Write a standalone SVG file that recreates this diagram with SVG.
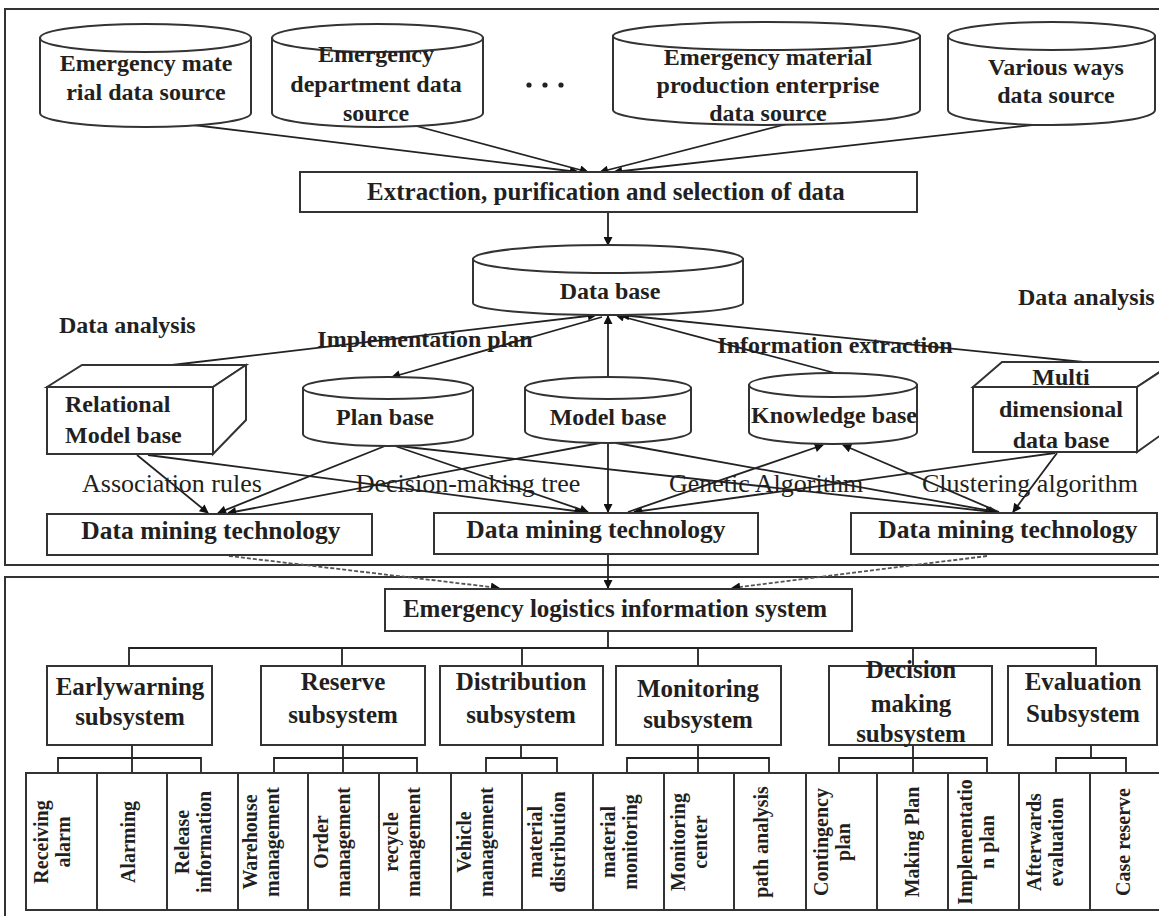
<svg xmlns="http://www.w3.org/2000/svg" width="1159" height="916" viewBox="0 0 1159 916">
<defs>
<style>
.t{font-family:"Liberation Serif","Times New Roman",serif;font-weight:bold;font-size:24px;fill:#231f20;text-anchor:middle}
.ts{font-family:"Liberation Serif","Times New Roman",serif;font-weight:bold;font-size:24px;fill:#231f20;text-anchor:start}
.l{font-family:"Liberation Serif","Times New Roman",serif;font-size:26px;fill:#231f20;text-anchor:middle}
.s{font-family:"Liberation Serif","Times New Roman",serif;font-weight:bold;font-size:20px;fill:#231f20;text-anchor:middle}
.sh{fill:#fff;stroke:#333;stroke-width:2}
.fr{fill:none;stroke:#333;stroke-width:2}
.c{fill:none;stroke:#222;stroke-width:1.8}
.a{marker-end:url(#ah)}
.d{fill:none;stroke:#555;stroke-width:1.8;stroke-dasharray:4 2}
.dm{font-size:25.5px}
</style>
<marker id="ah" viewBox="0 0 10 10" refX="9" refY="5" markerWidth="11" markerHeight="9" markerUnits="userSpaceOnUse" orient="auto"><path d="M0,0 L10,5 L0,10 Z" fill="#111"/></marker>
</defs>
<rect width="1159" height="916" fill="#fff"/>
<g id="frames">
<rect class="fr" x="5" y="9" width="1170" height="556"/>
<rect class="fr" x="5" y="577" width="1170" height="350"/>
</g>
<g id="connectors">
<line class="c a" x1="185" y1="124" x2="578" y2="172"/>
<line class="c a" x1="405" y1="123" x2="588" y2="172"/>
<line class="c a" x1="787" y1="124" x2="600" y2="172"/>
<line class="c a" x1="1050" y1="123" x2="614" y2="172"/>
<line class="c a" x1="608" y1="212" x2="608" y2="245"/>
<line class="c a" x1="172" y1="365" x2="596" y2="315"/>
<line class="c a" x1="602" y1="317" x2="392" y2="377"/>
<line class="c a" x1="608" y1="377" x2="608" y2="316"/>
<line class="c a" x1="835" y1="373" x2="616" y2="315"/>
<line class="c a" x1="1083" y1="362" x2="621" y2="315"/>
<line class="c a" x1="137" y1="455" x2="208" y2="513"/>
<line class="c a" x1="385" y1="446" x2="218" y2="513"/>
<line class="c a" x1="600" y1="443" x2="228" y2="513"/>
<line class="c a" x1="148" y1="455" x2="583" y2="512"/>
<line class="c a" x1="395" y1="446" x2="588" y2="512"/>
<line class="c a" x1="608" y1="443" x2="608" y2="512"/>
<line class="c a" x1="1055" y1="453" x2="634" y2="512"/>
<line class="c a" x1="628" y1="512" x2="823" y2="445"/>
<line class="c a" x1="398" y1="446" x2="994" y2="512"/>
<line class="c a" x1="616" y1="443" x2="997" y2="512"/>
<line class="c a" x1="999" y1="512" x2="843" y2="445"/>
<line class="c a" x1="1057" y1="453" x2="1013" y2="512"/>
<line class="d a" x1="229" y1="556" x2="499" y2="588"/>
<line class="d a" x1="987" y1="556" x2="732" y2="588"/>
<line class="c a" x1="608" y1="554" x2="608" y2="588"/>
<path class="c" d="M608,631 V648 M129,666 V648 H1096 V666 M342,648 V666 M522,648 V666 M698,648 V666 M913,648 V666"/>
<path class="c" d="M132,745 V773 M58,773 V758 H201 V773"/>
<path class="c" d="M343,745 V773 M274,773 V758 H417 V773"/>
<path class="c" d="M521,745 V758 M486,773 V758 H557 V773"/>
<path class="c" d="M698,745 V773 M627,773 V758 H769 V773"/>
<path class="c" d="M913,745 V773 M839,773 V758 H987 V773"/>
<path class="c" d="M1091,745 V758 M1056,773 V758 H1126 V773"/>
</g>
<g id="src1">
<path class="sh" d="M40,38 V113 A105.5,14 0 0 0 251,113 V38 Z"/>
<ellipse class="sh" cx="145.5" cy="38" rx="105.5" ry="14"/>
<text class="t" x="146" y="71">Emergency mate</text>
<text class="t" x="146" y="100">rial data source</text>
</g>
<g id="src2">
<path class="sh" d="M272,38 V113 A105.5,14 0 0 0 483,113 V38 Z"/>
<ellipse class="sh" cx="377.5" cy="38" rx="105.5" ry="14"/>
<text class="t" x="376" y="62">Emergency</text>
<text class="t" x="376" y="92">department data</text>
<text class="t" x="376" y="121">source</text>
</g>
<g id="dots">
<circle cx="529" cy="85" r="2.6" fill="#222"/>
<circle cx="545" cy="85" r="2.6" fill="#222"/>
<circle cx="561" cy="85" r="2.6" fill="#222"/>
</g>
<g id="src3">
<path class="sh" d="M613,36 V110 A153.5,15 0 0 0 920,110 V36 Z"/>
<ellipse class="sh" cx="766.5" cy="36" rx="153.5" ry="14"/>
<text class="t" x="768" y="65">Emergency  material</text>
<text class="t" x="768" y="93">production  enterprise</text>
<text class="t" x="768" y="121">data source</text>
</g>
<g id="src4">
<path class="sh" d="M948,36 V110 A103.5,15 0 0 0 1155,110 V36 Z"/>
<ellipse class="sh" cx="1051.5" cy="36" rx="103.5" ry="14"/>
<text class="t" x="1056" y="75">Various ways</text>
<text class="t" x="1056" y="103">data source</text>
</g>
<g id="extract">
<rect class="sh" x="300" y="172" width="617" height="40"/>
<text class="t" x="606" y="200" style="font-size:25px">Extraction, purification and selection of data</text>
</g>
<g id="database">
<path class="sh" d="M473,259 V303 A135,12 0 0 0 743,303 V259 Z"/>
<ellipse class="sh" cx="608" cy="259" rx="135" ry="14"/>
<text class="t" x="610" y="299">Data base</text>
</g>
<g id="labels">
<text class="ts" x="59" y="333">Data analysis</text>
<text class="ts" x="1018" y="305">Data analysis</text>
<text class="t" x="425" y="347">Implementation plan</text>
<text class="t" x="835" y="353">Information extraction</text>
<text class="l" x="172" y="492">Association rules</text>
<text class="l" x="468" y="492">Decision-making tree</text>
<text class="l" x="766" y="492">Genetic Algorithm</text>
<text class="l" x="1030" y="492">Clustering algorithm</text>
</g>
<g id="relational">
<path class="sh" d="M47,387 L82,365 H246 L213,387 Z"/>
<path class="sh" d="M213,387 L246,365 V420 L213,454 Z"/>
<rect class="sh" x="47" y="387" width="166" height="67"/>
<text class="ts" x="65" y="412">Relational</text>
<text class="ts" x="65" y="443">Model base</text>
</g>
<g id="planbase">
<path class="sh" d="M303,388 V434 A85,12 0 0 0 473,434 V388 Z"/>
<ellipse class="sh" cx="388" cy="388" rx="85" ry="11"/>
<text class="t" x="385" y="425">Plan base</text>
</g>
<g id="modelbase">
<path class="sh" d="M525,388 V431 A83,12 0 0 0 691,431 V388 Z"/>
<ellipse class="sh" cx="608" cy="388" rx="83" ry="11"/>
<text class="t" x="608" y="425">Model base</text>
</g>
<g id="knowledgebase">
<path class="sh" d="M749,385 V432 A84,12 0 0 0 917,432 V385 Z"/>
<ellipse class="sh" cx="833" cy="385" rx="84" ry="12"/>
<text class="t" x="834" y="423">Knowledge base</text>
</g>
<g id="multidim">
<path class="sh" d="M973,387 L1002,362 H1175 L1137,387 Z"/>
<path class="sh" d="M1137,387 L1175,362 V425 L1137,452 Z"/>
<rect class="sh" x="973" y="387" width="164" height="65"/>
<text class="t" x="1061" y="385">Multi</text>
<text class="t" x="1061" y="417">dimensional</text>
<text class="t" x="1061" y="448">data base</text>
</g>
<g id="dm1">
<rect class="sh" x="47" y="514" width="325" height="41"/>
<text class="t dm" x="211" y="539">Data mining technology</text>
</g>
<g id="dm2">
<rect class="sh" x="434" y="513" width="324" height="41"/>
<text class="t dm" x="596" y="538">Data mining technology</text>
</g>
<g id="dm3">
<rect class="sh" x="851" y="513" width="306" height="41"/>
<text class="t dm" x="1008" y="538">Data mining technology</text>
</g>
<g id="elis">
<rect class="sh" x="385" y="589" width="467" height="42"/>
<text class="t" x="615" y="617" style="font-size:25px">Emergency logistics information system</text>
</g>
<g id="sub-early">
<rect class="sh" x="47" y="666" width="165" height="79"/>
<text class="t" x="130" y="695" style="font-size:25px">Earlywarning</text>
<text class="t" x="130" y="725" style="font-size:25px">subsystem</text>
</g>
<g id="sub-reserve">
<rect class="sh" x="261" y="666" width="164" height="79"/>
<text class="t" x="343" y="690" style="font-size:25px">Reserve</text>
<text class="t" x="343" y="723" style="font-size:25px">subsystem</text>
</g>
<g id="sub-distribution">
<rect class="sh" x="440" y="666" width="163" height="79"/>
<text class="t" x="521" y="690" style="font-size:25px">Distribution</text>
<text class="t" x="521" y="723" style="font-size:25px">subsystem</text>
</g>
<g id="sub-monitoring">
<rect class="sh" x="616" y="666" width="165" height="79"/>
<text class="t" x="698" y="697" style="font-size:25px">Monitoring</text>
<text class="t" x="698" y="728" style="font-size:25px">subsystem</text>
</g>
<g id="sub-decision">
<rect class="sh" x="829" y="666" width="163" height="79"/>
<text class="t" x="911" y="678" style="font-size:25px">Decision</text>
<text class="t" x="911" y="712" style="font-size:25px">making</text>
<text class="t" x="911" y="742" style="font-size:25px">subsystem</text>
</g>
<g id="sub-evaluation">
<rect class="sh" x="1008" y="666" width="149" height="79"/>
<text class="t" x="1083" y="690" style="font-size:25px">Evaluation</text>
<text class="t" x="1083" y="722" style="font-size:25px">Subsystem</text>
</g>
<g id="leaves">
<g id="leaf1"><rect class="sh" x="26" y="773" width="71" height="137"/><text class="s" transform="translate(61.5,842) rotate(-90)"><tspan x="0" y="-14">Receiving</tspan><tspan x="0" y="8">alarm</tspan></text></g>
<g id="leaf2"><rect class="sh" x="97" y="773" width="70" height="137"/><text class="s" transform="translate(132,842) rotate(-90)" y="3">Alarming</text></g>
<g id="leaf3"><rect class="sh" x="167" y="773" width="71" height="137"/><text class="s" transform="translate(202.5,842) rotate(-90)"><tspan x="0" y="-14">Release</tspan><tspan x="0" y="8">information</tspan></text></g>
<g id="leaf4"><rect class="sh" x="238" y="773" width="70" height="137"/><text class="s" transform="translate(273,842) rotate(-90)"><tspan x="0" y="-16">Warehouse</tspan><tspan x="0" y="6">management</tspan></text></g>
<g id="leaf5"><rect class="sh" x="308" y="773" width="71" height="137"/><text class="s" transform="translate(343.5,842) rotate(-90)"><tspan x="0" y="-16">Order</tspan><tspan x="0" y="6">management</tspan></text></g>
<g id="leaf6"><rect class="sh" x="379" y="773" width="72" height="137"/><text class="s" transform="translate(415,842) rotate(-90)"><tspan x="0" y="-17">recycle</tspan><tspan x="0" y="5">management</tspan></text></g>
<g id="leaf7"><rect class="sh" x="451" y="773" width="71" height="137"/><text class="s" transform="translate(486.5,842) rotate(-90)"><tspan x="0" y="-16">Vehicle</tspan><tspan x="0" y="6">management</tspan></text></g>
<g id="leaf8"><rect class="sh" x="522" y="773" width="71" height="137"/><text class="s" transform="translate(557.5,842) rotate(-90)"><tspan x="0" y="-16">material</tspan><tspan x="0" y="7">distribution</tspan></text></g>
<g id="leaf9"><rect class="sh" x="593" y="773" width="71" height="137"/><text class="s" transform="translate(628.5,842) rotate(-90)"><tspan x="0" y="-14">material</tspan><tspan x="0" y="8">monitoring</tspan></text></g>
<g id="leaf10"><rect class="sh" x="664" y="773" width="70" height="137"/><text class="s" transform="translate(699,842) rotate(-90)"><tspan x="0" y="-14">Monitoring</tspan><tspan x="0" y="8">center</tspan></text></g>
<g id="leaf11"><rect class="sh" x="734" y="773" width="72" height="137"/><text class="s" transform="translate(770,842) rotate(-90)" y="-2">path analysis</text></g>
<g id="leaf12"><rect class="sh" x="806" y="773" width="71" height="137"/><text class="s" transform="translate(841.5,842) rotate(-90)"><tspan x="0" y="-14">Contingency</tspan><tspan x="0" y="8">plan</tspan></text></g>
<g id="leaf13"><rect class="sh" x="877" y="773" width="71" height="137"/><text class="s" transform="translate(912.5,842) rotate(-90)" y="6">Making Plan</text></g>
<g id="leaf14"><rect class="sh" x="948" y="773" width="71" height="137"/><text class="s" transform="translate(983.5,842) rotate(-90)"><tspan x="0" y="-12">Implementatio</tspan><tspan x="0" y="10">n plan</tspan></text></g>
<g id="leaf15"><rect class="sh" x="1019" y="773" width="71" height="137"/><text class="s" transform="translate(1054.5,842) rotate(-90)"><tspan x="0" y="-14">Afterwards</tspan><tspan x="0" y="8">evaluation</tspan></text></g>
<g id="leaf16"><rect class="sh" x="1090" y="773" width="71" height="137"/><text class="s" transform="translate(1125.5,842) rotate(-90)" y="4">Case reserve</text></g>
</g>
</svg>
